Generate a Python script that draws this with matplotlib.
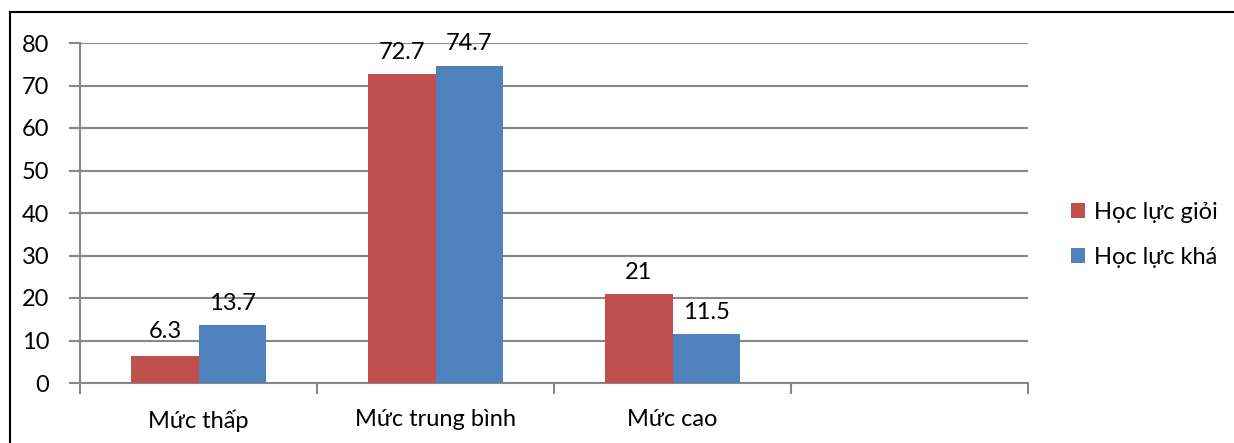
import matplotlib
matplotlib.use("Agg")
import matplotlib.pyplot as plt
from matplotlib.patches import Rectangle
import numpy as np

categories = ["Mức thấp", "Mức trung bình", "Mức cao", ""]
series_names = ["Học lực giỏi", "Học lực khá"]
gioi = [6.3, 72.7, 21, None]
kha = [13.7, 74.7, 11.5, None]
gioi_labels = ["6.3", "72.7", "21"]
kha_labels = ["13.7", "74.7", "11.5"]
yticks = [0, 10, 20, 30, 40, 50, 60, 70, 80]

colors = ["#C0504D", "#4F81BD"]
grid_c = "#878787"
plt.rcParams['font.family'] = ['Lato', 'DejaVu Sans']
FS = 17

fig = plt.figure(figsize=(12.34, 4.43), dpi=100)
ax = fig.add_axes([80/1234, 1-383/443, (1028-80)/1234, (383-43)/443])

# outer frame
fig.patches.append(Rectangle((10/1234, -0.05), 1.2, 1-12/443+0.05, transform=fig.transFigure,
                             fill=False, edgecolor="black", linewidth=1.5))

label_offsets = [[17.5, 15.5, 15.5], [15.5, 15.5, 15.5]]  # points above bar top

x = np.arange(len(categories))
w = 0.283
for i, (vals, labs) in enumerate([(gioi, gioi_labels), (kha, kha_labels)]):
    xs = [x[j] + (i - 0.5) * w for j in range(len(vals)) if vals[j] is not None]
    vs = [v for v in vals if v is not None]
    bars = ax.bar(xs, vs, width=w, color=colors[i], label=series_names[i], zorder=3)
    for k, (b, lab) in enumerate(zip(bars, labs)):
        ax.annotate(lab, (b.get_x() + b.get_width()/2, b.get_height()),
                    xytext=(0, label_offsets[i][k]), textcoords="offset points",
                    ha="center", va="center", fontsize=FS, color="black",
                    annotation_clip=False)

ax.set_xlim(-0.5, len(categories) - 0.5)
ax.set_ylim(0, 80)
ax.set_yticks(yticks)
ax.set_yticklabels([str(t) for t in yticks], fontsize=FS)
ax.set_xticks(x)
ax.set_xticklabels(categories, fontsize=FS)
ax.set_xticks(np.arange(len(categories) + 1) - 0.5, minor=True)
ax.tick_params(axis="x", which="major", length=0, pad=19)
ax.tick_params(axis="x", which="minor", length=8, color=grid_c, width=1.5)
ax.tick_params(axis="y", length=8, color=grid_c, width=1.5, pad=14)
ax.grid(axis="y", color=grid_c, linewidth=1.5, zorder=0)
for s in ["top", "right"]:
    ax.spines[s].set_visible(False)
for s in ["left", "bottom"]:
    ax.spines[s].set_color(grid_c)
    ax.spines[s].set_linewidth(1.5)

leg = fig.legend(loc="center left", bbox_to_anchor=(1050/1234, 1-235/443), frameon=False,
                 fontsize=FS, handlelength=0.6, handleheight=0.6, handletextpad=0.35,
                 labelspacing=1.0)

fig.savefig("out.png", dpi=100)
